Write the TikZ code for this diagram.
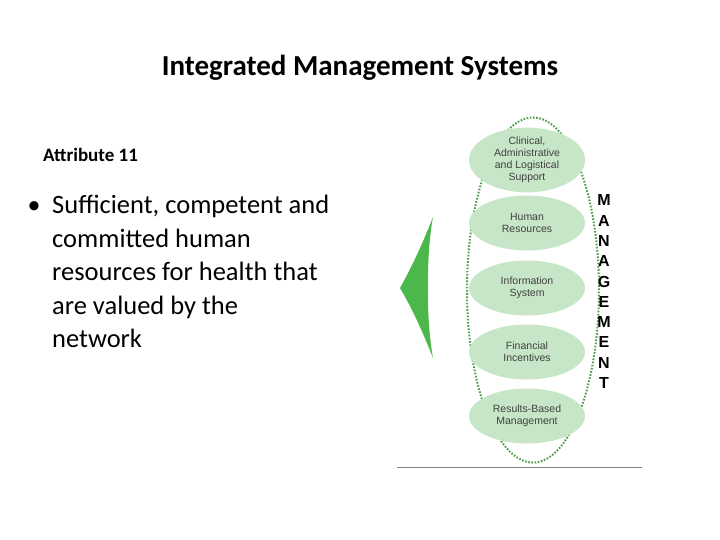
\documentclass[tikz,border=0pt]{standalone}
\usepackage{fontspec}
\setmainfont{Carlito}
\newfontfamily\itemfont{Liberation Sans}
\usetikzlibrary{shapes.geometric}
\begin{document}
\begin{tikzpicture}[x=1pt,y=-1pt,
  item/.style={ellipse,fill=green!55!black!22!white,minimum width=116pt,minimum height=55pt,inner sep=0pt,align=center,font=\fontsize{10.5}{12}\selectfont\itemfont,text=black!75},
  letter/.style={font=\fontsize{16}{16}\selectfont\bfseries\itemfont}]
\useasboundingbox (0,0) rectangle (720,540);
\node (title) at (360,68) {\fontsize{29}{32}\selectfont\bfseries Integrated Management Systems};
\node[anchor=west,inner sep=0pt] (attr) at (43,155) {\fontsize{19}{22}\selectfont\bfseries Attribute 11};
\node[anchor=north west,align=left,inner sep=0pt,font=\fontsize{26.5}{33.5}\selectfont] (txt) at (52,195)
 {Sufficient, competent and\\ committed human\\ resources for health that\\ are valued by the\\ network};
\node (bul) at (34,208) {\fontsize{26}{28}\selectfont\textbullet};
\fill[green!60!black!70] (433,217) .. controls (420,250) and (410,270) .. (400,288) .. controls (410,305) and (420,325) .. (433,358) .. controls (426,320) and (426,255) .. cycle;
\node[ellipse,draw=green!45!black!70,line width=2pt,dash pattern=on 1.6pt off 1.6pt,minimum width=132pt,minimum height=345pt,inner sep=0pt] (outer) at (533,290) {};
\node[item] (e1) at (527,160) {Clinical,\\Administrative\\and Logistical\\Support};
\node[item] (e2) at (527,223) {Human\\Resources};
\node[item] (e3) at (527,288) {Information\\System};
\node[item] (e4) at (527,352) {Financial\\Incentives};
\node[item] (e5) at (527,416) {Results-Based\\Management};
\foreach \l [count=\i] in {M,A,N,A,G,E,M,E,N,T}
  \node[letter] (m\i) at (604,180+20.3*\i) {\l};
\coordinate (la) at (397,467); \coordinate (lb) at (642,467);
\draw[gray,line width=1pt] (la) -- (lb);
\end{tikzpicture}
\end{document}
